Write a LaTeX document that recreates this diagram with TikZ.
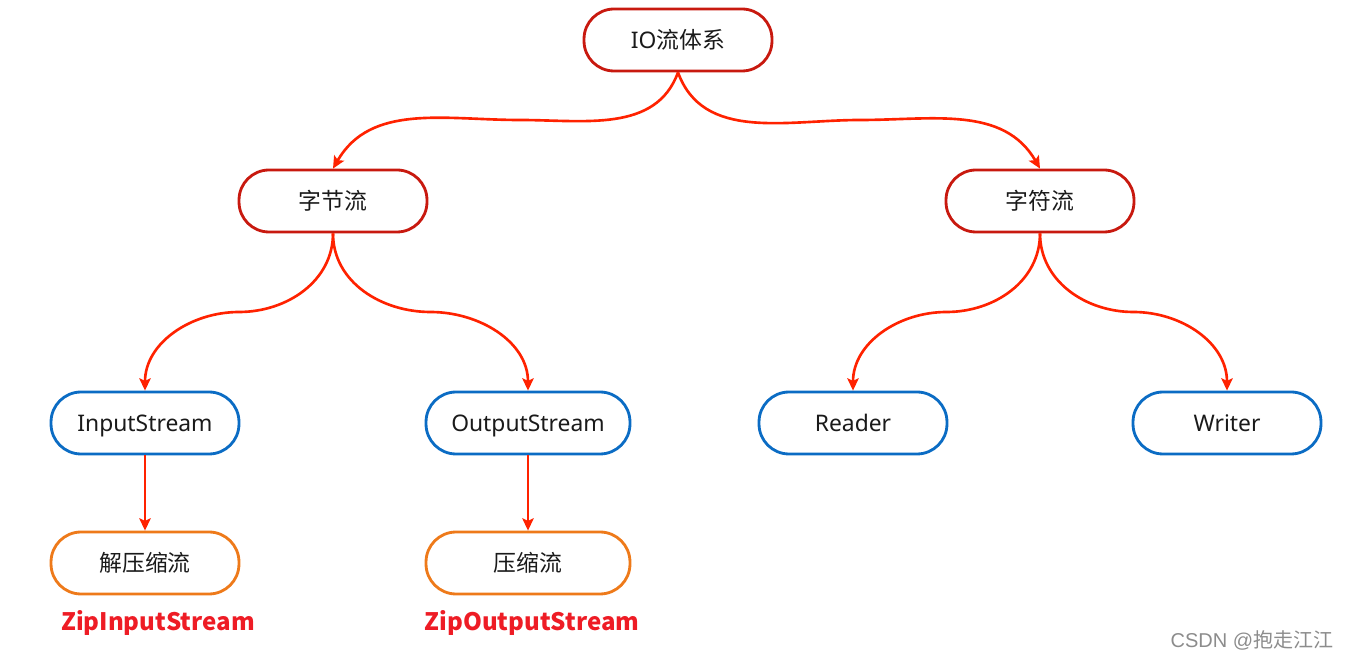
\documentclass[tikz,border=0pt]{standalone}
\usepackage{fontspec}
\setmainfont{Noto Sans}
\newfontfamily\cjk{Noto Sans CJK SC}
\newfontfamily\wm{Liberation Sans}
\usetikzlibrary{arrows.meta,calc}
\definecolor{darkred}{HTML}{C8190F}
\definecolor{arrred}{HTML}{FF2200}
\definecolor{boxblue}{HTML}{0B6CC4}
\definecolor{boxorange}{HTML}{EE7A1A}
\definecolor{labred}{HTML}{EE1C25}
\definecolor{txt}{HTML}{1A1A1A}
\tikzset{
  pill/.style={draw, line width=1.6pt, fill=white, rounded corners=0.6cm,
    minimum width=3.76cm, minimum height=1.24cm, inner sep=0pt,
    text height=12pt, text depth=2.5pt,
    font=\fontsize{13}{15}\selectfont, text=txt},
  redpill/.style={pill, draw=darkred},
  bluepill/.style={pill, draw=boxblue},
  orangepill/.style={pill, draw=boxorange},
  arr/.style={draw=arrred, line width=1.5pt,
    -{Stealth[length=7pt,width=6.5pt,inset=1.5pt]}},
  ziplabel/.style={font=\cjk\bfseries\fontsize{13.7}{16}\selectfont, text=labred, inner sep=0pt},
}
\begin{document}
\begin{tikzpicture}[x=0.02cm,y=-0.02cm]
\useasboundingbox (0,0) rectangle (1350,658);
\node[redpill] (io) at (678,40) {IO{\cjk 流体系}};
\node[redpill] (byte) at (333,201) {\cjk 字节流};
\node[redpill] (char) at (1040,201) {\cjk 字符流};
\node[bluepill] (in) at (145,423) {InputStream};
\node[bluepill, minimum width=4.08cm] (out) at (528,423) {OutputStream};
\node[bluepill] (rd) at (853,423) {Reader};
\node[bluepill] (wr) at (1227,423) {Writer};
\node[orangepill] (unz) at (145,563) {\cjk 解压缩流};
\node[orangepill, minimum width=4.08cm] (zip) at (528,563) {\cjk 压缩流};
\node[ziplabel] (zin) at (158,623) {ZipInputStream};
\node[ziplabel] (zout) at (532,623) {ZipOutputStream};
\node[text=black!45, font=\fontsize{11.4}{13}\selectfont, inner sep=0pt] (wmk) at (1252,640) {{\wm CSDN @}{\cjk 抱走江江}};
% top level curves
\coordinate (m1) at (520,120);
\coordinate (m2) at (860,120);
\draw[arr] (io.south) to[out=-110,in=0] (m1) to[out=180,in=60] (byte.north);
\draw[arr] (io.south) to[out=-70,in=180] (m2) to[out=0,in=120] (char.north);
% second level
\draw[arr] (byte.south) to[out=-90,in=0] ($(byte.south)!.5!(in.north)$) to[out=180,in=90] (in.north);
\draw[arr] (byte.south) to[out=-90,in=180] ($(byte.south)!.5!(out.north)$) to[out=0,in=90] (out.north);
\draw[arr] (char.south) to[out=-90,in=0] ($(char.south)!.5!(rd.north)$) to[out=180,in=90] (rd.north);
\draw[arr] (char.south) to[out=-90,in=180] ($(char.south)!.5!(wr.north)$) to[out=0,in=90] (wr.north);
% straight
\draw[arr] (in.south) -- (unz.north);
\draw[arr] (out.south) -- (zip.north);
\end{tikzpicture}
\end{document}
